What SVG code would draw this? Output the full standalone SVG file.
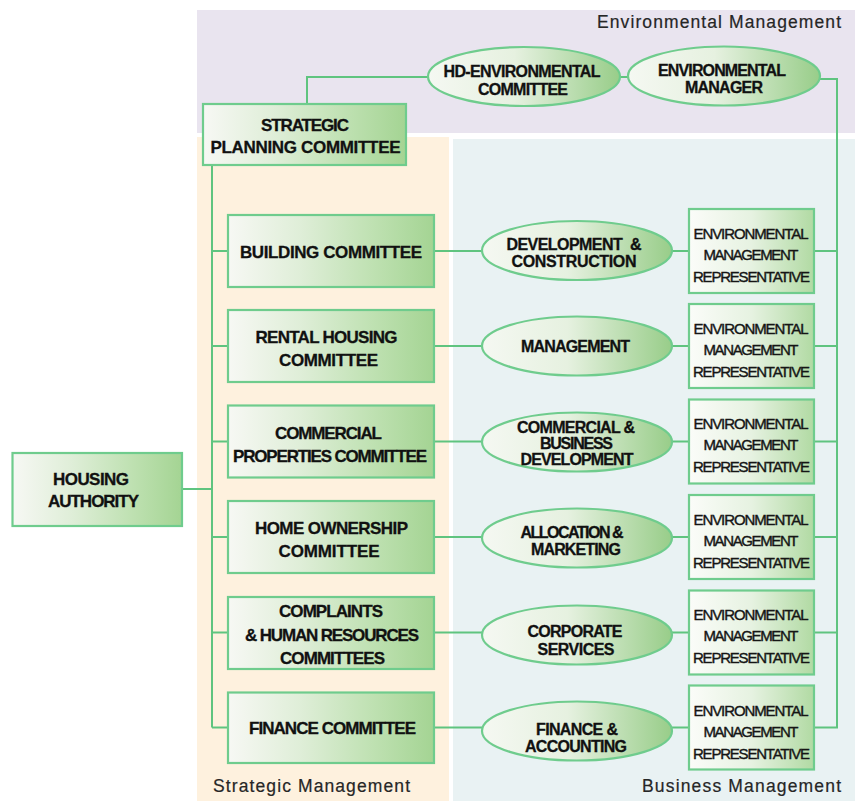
<svg xmlns="http://www.w3.org/2000/svg" width="855" height="801" viewBox="0 0 855 801">
<defs>
<linearGradient id="boxGrad" x1="0" y1="0" x2="1" y2="0">
<stop offset="0" stop-color="#f7f8f4"/>
<stop offset="0.35" stop-color="#dfeed8"/>
<stop offset="0.7" stop-color="#bfe1b2"/>
<stop offset="1" stop-color="#a4d493"/>
</linearGradient>
<linearGradient id="ellGrad" x1="0" y1="0" x2="1" y2="0">
<stop offset="0" stop-color="#f5f8f2"/>
<stop offset="0.45" stop-color="#e6f1e0"/>
<stop offset="1" stop-color="#98cd89"/>
</linearGradient>
<linearGradient id="repGrad" x1="0" y1="0" x2="1" y2="0">
<stop offset="0" stop-color="#fbfcf9"/>
<stop offset="0.5" stop-color="#e6f2e1"/>
<stop offset="1" stop-color="#b1daa3"/>
</linearGradient>
<style>
.box{fill:url(#boxGrad);stroke:#6fcc8d;stroke-width:2.2}
.ell{fill:url(#ellGrad);stroke:#6fcc8d;stroke-width:2.2}
.rep{fill:url(#repGrad);stroke:#6fcc8d;stroke-width:2.2}
.ln{fill:none;stroke:#5fc47f;stroke-width:2}
.t{font-family:"Liberation Sans",Arial,sans-serif;font-weight:bold;font-size:17px;fill:#111;stroke:#111;stroke-width:0.3;text-anchor:middle}
.e{font-family:"Liberation Sans",Arial,sans-serif;font-weight:bold;font-size:16px;fill:#111;stroke:#111;stroke-width:0.3;text-anchor:middle}
.r{font-family:"Liberation Sans",Arial,sans-serif;font-size:15px;fill:#151515;stroke:#151515;stroke-width:0.4;text-anchor:middle}
.lab{font-family:"Liberation Sans",Arial,sans-serif;font-size:17.5px;fill:#262626;stroke:#262626;stroke-width:0.2}
</style>
</defs>

<g id="panels">
<rect x="197" y="10" width="658" height="123" fill="#e9e4ef"/>
<rect x="197" y="137" width="252" height="664" fill="#fef1de"/>
<rect x="453" y="139" width="402" height="662" fill="#e9f2f3"/>
<text class="lab" x="597" y="27.5" textLength="244">Environmental Management</text>
<text class="lab" x="213" y="792" textLength="197">Strategic Management</text>
<text class="lab" x="642" y="792" textLength="199">Business Management</text>
</g>

<g id="connectors">
<polyline class="ln" points="307,104 307,77 428,77"/>
<line class="ln" x1="620" y1="77" x2="628" y2="77"/>
<polyline class="ln" points="819,79 837,79 837,727.5 814,727.5"/>
<line class="ln" x1="212" y1="165" x2="212" y2="727.5"/>
<line class="ln" x1="182" y1="489" x2="212" y2="489"/>
<line class="ln" x1="212" y1="251" x2="228" y2="251"/>
<line class="ln" x1="212" y1="346" x2="228" y2="346"/>
<line class="ln" x1="212" y1="441.5" x2="228" y2="441.5"/>
<line class="ln" x1="212" y1="537" x2="228" y2="537"/>
<line class="ln" x1="212" y1="632.5" x2="228" y2="632.5"/>
<line class="ln" x1="212" y1="727.5" x2="228" y2="727.5"/>
<line class="ln" x1="434" y1="251" x2="689" y2="251"/>
<line class="ln" x1="434" y1="346" x2="689" y2="346"/>
<line class="ln" x1="434" y1="441.5" x2="689" y2="441.5"/>
<line class="ln" x1="434" y1="537" x2="689" y2="537"/>
<line class="ln" x1="434" y1="632.5" x2="689" y2="632.5"/>
<line class="ln" x1="434" y1="727.5" x2="689" y2="727.5"/>
<line class="ln" x1="814" y1="251" x2="837" y2="251"/>
<line class="ln" x1="814" y1="346" x2="837" y2="346"/>
<line class="ln" x1="814" y1="441.5" x2="837" y2="441.5"/>
<line class="ln" x1="814" y1="537" x2="837" y2="537"/>
<line class="ln" x1="814" y1="632.5" x2="837" y2="632.5"/>
</g>

<g id="hd-environmental-committee">
<ellipse class="ell" cx="524" cy="76.5" rx="96" ry="29.5"/>
<text class="e" x="522" y="77" textLength="157">HD-ENVIRONMENTAL</text>
<text class="e" x="523" y="95" textLength="90">COMMITTEE</text>
</g>
<g id="environmental-manager">
<ellipse class="ell" cx="724" cy="76" rx="96" ry="29.5"/>
<text class="e" x="722" y="76" textLength="128">ENVIRONMENTAL</text>
<text class="e" x="724" y="93" textLength="78">MANAGER</text>
</g>

<g id="strategic-planning-committee">
<rect class="box" x="203" y="104" width="203" height="61"/>
<text class="t" x="305" y="131" textLength="88">STRATEGIC</text>
<text class="t" x="305.5" y="153" textLength="190">PLANNING COMMITTEE</text>
</g>

<g id="housing-authority">
<rect class="box" x="12.5" y="453" width="169.5" height="73"/>
<text class="t" x="91" y="485" textLength="76">HOUSING</text>
<text class="t" x="93.5" y="507" textLength="91">AUTHORITY</text>
</g>

<g id="building-committee">
<rect class="box" x="228" y="215" width="206" height="72"/>
<text class="t" x="331" y="258" textLength="182">BUILDING COMMITTEE</text>
</g>
<g id="rental-housing-committee">
<rect class="box" x="228" y="310" width="206" height="72"/>
<text class="t" x="326.5" y="343" textLength="142">RENTAL HOUSING</text>
<text class="t" x="328.5" y="366" textLength="99">COMMITTEE</text>
</g>
<g id="commercial-properties-committee">
<rect class="box" x="228" y="405.5" width="206" height="72"/>
<text class="t" x="328.5" y="438.5" textLength="107">COMMERCIAL</text>
<text class="t" x="330" y="461.5" textLength="194">PROPERTIES COMMITTEE</text>
</g>
<g id="home-ownership-committee">
<rect class="box" x="228" y="501" width="206" height="72"/>
<text class="t" x="331.5" y="533.5" textLength="153">HOME OWNERSHIP</text>
<text class="t" x="329" y="556.5" textLength="101">COMMITTEE</text>
</g>
<g id="complaints-human-resources-committees">
<rect class="box" x="228" y="597" width="206" height="72"/>
<text class="t" x="331" y="617" textLength="104">COMPLAINTS</text>
<text class="t" x="332" y="640.5" textLength="174">&amp; HUMAN RESOURCES</text>
<text class="t" x="332.5" y="664" textLength="105">COMMITTEES</text>
</g>
<g id="finance-committee">
<rect class="box" x="228" y="692.5" width="206" height="70.5"/>
<text class="t" x="332.5" y="734" textLength="167">FINANCE COMMITTEE</text>
</g>

<g id="development-construction">
<ellipse class="ell" cx="577" cy="250.5" rx="95" ry="29.5"/>
<text class="e" x="574" y="249.5" textLength="135" xml:space="preserve">DEVELOPMENT  &amp;</text>
<text class="e" x="574" y="266.5" textLength="125">CONSTRUCTION</text>
</g>
<g id="management">
<ellipse class="ell" cx="577" cy="346" rx="95" ry="29.5"/>
<text class="e" x="575.5" y="351.5" textLength="109">MANAGEMENT</text>
</g>
<g id="commercial-business-development">
<ellipse class="ell" cx="577" cy="442" rx="95" ry="29.5"/>
<text class="e" x="576" y="433" textLength="118">COMMERCIAL &amp;</text>
<text class="e" x="576.5" y="448.5" textLength="73">BUSINESS</text>
<text class="e" x="577" y="464.5" textLength="113">DEVELOPMENT</text>
</g>
<g id="allocation-marketing">
<ellipse class="ell" cx="577" cy="538" rx="95" ry="29.5"/>
<text class="e" x="572" y="538" textLength="103">ALLOCATION &amp;</text>
<text class="e" x="576" y="555" textLength="90">MARKETING</text>
</g>
<g id="corporate-services">
<ellipse class="ell" cx="577" cy="635" rx="95" ry="29.5"/>
<text class="e" x="575" y="637" textLength="95">CORPORATE</text>
<text class="e" x="576" y="655" textLength="77">SERVICES</text>
</g>
<g id="finance-accounting">
<ellipse class="ell" cx="577" cy="731" rx="95" ry="29.5"/>
<text class="e" x="577" y="735" textLength="82">FINANCE &amp;</text>
<text class="e" x="576" y="752" textLength="102">ACCOUNTING</text>
</g>

<g id="emr-1">
<rect class="rep" x="689" y="209" width="125" height="84"/>
<text class="r" x="751" y="238.5" textLength="115">ENVIRONMENTAL</text>
<text class="r" x="751" y="259.5" textLength="95">MANAGEMENT</text>
<text class="r" x="751.5" y="281.5" textLength="117">REPRESENTATIVE</text>
</g>
<g id="emr-2">
<rect class="rep" x="689" y="304" width="125" height="84"/>
<text class="r" x="751" y="333.5" textLength="115">ENVIRONMENTAL</text>
<text class="r" x="751" y="354.5" textLength="95">MANAGEMENT</text>
<text class="r" x="751.5" y="376.5" textLength="117">REPRESENTATIVE</text>
</g>
<g id="emr-3">
<rect class="rep" x="689" y="399.5" width="125" height="84"/>
<text class="r" x="751" y="429" textLength="115">ENVIRONMENTAL</text>
<text class="r" x="751" y="450" textLength="95">MANAGEMENT</text>
<text class="r" x="751.5" y="472" textLength="117">REPRESENTATIVE</text>
</g>
<g id="emr-4">
<rect class="rep" x="689" y="495" width="125" height="84"/>
<text class="r" x="751" y="524.5" textLength="115">ENVIRONMENTAL</text>
<text class="r" x="751" y="545.5" textLength="95">MANAGEMENT</text>
<text class="r" x="751.5" y="567.5" textLength="117">REPRESENTATIVE</text>
</g>
<g id="emr-5">
<rect class="rep" x="689" y="590.5" width="125" height="84"/>
<text class="r" x="751" y="620" textLength="115">ENVIRONMENTAL</text>
<text class="r" x="751" y="641" textLength="95">MANAGEMENT</text>
<text class="r" x="751.5" y="663" textLength="117">REPRESENTATIVE</text>
</g>
<g id="emr-6">
<rect class="rep" x="689" y="685.5" width="125" height="84"/>
<text class="r" x="751" y="715.5" textLength="115">ENVIRONMENTAL</text>
<text class="r" x="751" y="736.5" textLength="95">MANAGEMENT</text>
<text class="r" x="751.5" y="758.5" textLength="117">REPRESENTATIVE</text>
</g>
</svg>
